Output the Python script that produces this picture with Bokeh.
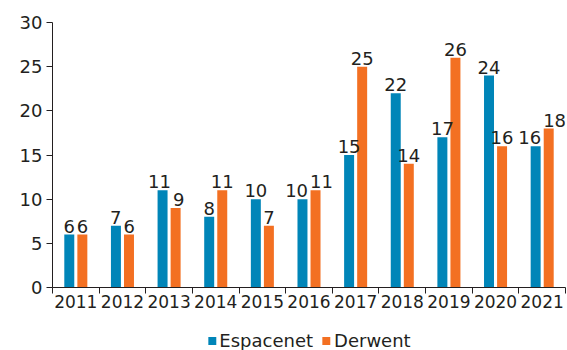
from bokeh.plotting import figure
from bokeh.models import ColumnDataSource, FixedTicker, Legend, LegendItem, Range1d
from bokeh.layouts import column
from bokeh.transform import dodge
from bokeh.embed import file_html
from bokeh.resources import INLINE
from bokeh.core.properties import value

years = ["2011", "2012", "2013", "2014", "2015", "2016", "2017", "2018", "2019", "2020", "2021"]
espacenet = [6, 7, 11, 8, 10, 10, 15, 22, 17, 24, 16]
derwent = [6, 6, 9, 11, 7, 11, 25, 14, 26, 16, 18]
y_ticks = [0, 5, 10, 15, 20, 25, 30]
series_names = ["Espacenet", "Derwent"]

BLUE = "#0085b8"
ORANGE = "#f37022"
TXT = "#231f20"
FONT = "DejaVu Sans"

n = len(years)
centers = [i + 0.5 for i in range(n)]

# simple label collision avoidance (pixel offsets)
px_x = 513.0 / n
px_y = 265.0 / 30
char_w = 11.4
sep = 0.28 * px_x
e_off, d_off = [], []
for e, d in zip(espacenet, derwent):
    need = (len(str(e)) + len(str(d))) * char_w / 2 + 2
    dy = abs(e - d) * px_y
    if dy < 20 and need > sep:
        s = (need - sep) / 2
    else:
        s = 0
    e_off.append(-s)
    d_off.append(s)

src = ColumnDataSource(dict(
    x=centers, esp=espacenet, der=derwent,
    esp_lbl=[str(v) for v in espacenet], der_lbl=[str(v) for v in derwent],
    e_off=e_off, d_off=d_off,
))

p = figure(frame_width=513, frame_height=265, output_backend="svg", toolbar_location=None,
           x_range=Range1d(0, n), y_range=Range1d(0, 30),
           min_border_left=52, min_border_right=2, min_border_top=22, min_border_bottom=31)
p.outline_line_color = None
p.xgrid.visible = False
p.ygrid.visible = False
p.background_fill_color = "white"

off = 0.14
w = 0.214
p.vbar(x=dodge("x", -off, range=p.x_range), top="esp", width=w, source=src,
       fill_color=BLUE, line_color=None)
p.vbar(x=dodge("x", off, range=p.x_range), top="der", width=w, source=src,
       fill_color=ORANGE, line_color=None)

p.text(x=dodge("x", -off, range=p.x_range), y="esp", text="esp_lbl", source=src,
       x_offset="e_off", y_offset=-2, text_align="center", text_baseline="bottom",
       text_font=value(FONT), text_font_size="18px", text_color=TXT)
p.text(x=dodge("x", off, range=p.x_range), y="der", text="der_lbl", source=src,
       x_offset="d_off", y_offset=-2, text_align="center", text_baseline="bottom",
       text_font=value(FONT), text_font_size="18px", text_color=TXT)

xa = p.xaxis[0]
xa.ticker = FixedTicker(ticks=centers, minor_ticks=list(range(n + 1)))
xa.major_label_overrides = {c: y for c, y in zip(centers, years)}
xa.major_tick_out = 0
xa.major_tick_in = 0
xa.minor_tick_out = 6
xa.minor_tick_in = 0
xa.minor_tick_line_color = TXT
xa.axis_line_color = TXT
xa.major_label_text_font = FONT
xa.major_label_text_font_size = "17px"
xa.major_label_text_color = TXT
xa.major_label_standoff = 1

ya = p.yaxis[0]
ya.ticker = FixedTicker(ticks=y_ticks)
ya.major_tick_out = 6
ya.major_tick_in = 0
ya.minor_tick_line_color = None
ya.major_tick_line_color = TXT
ya.axis_line_color = TXT
ya.major_label_text_font = FONT
ya.major_label_text_font_size = "18px"
ya.major_label_text_color = TXT
ya.major_label_standoff = 4

# legend strip below the chart (its bars fall outside its y range, only the legend shows)
lg = figure(width=567, height=33, output_backend="svg", toolbar_location=None,
            x_axis_type=None, y_axis_type=None,
            min_border_left=26, min_border_right=0, min_border_top=11, min_border_bottom=0,
            x_range=Range1d(0, n), y_range=Range1d(100, 101))
lg.outline_line_color = None
lg.xgrid.visible = False
lg.ygrid.visible = False
lb = lg.vbar(x="x", top="esp", width=w, source=src, fill_color=BLUE, line_color=None)
lo = lg.vbar(x="x", top="der", width=w, source=src, fill_color=ORANGE, line_color=None)
legend = Legend(items=[LegendItem(label=series_names[0], renderers=[lb]),
                       LegendItem(label=series_names[1], renderers=[lo])],
                orientation="horizontal", location="center",
                border_line_color=None, background_fill_alpha=0,
                label_text_font=FONT, label_text_font_size="18px", label_text_color=TXT,
                glyph_width=10, glyph_height=10, label_standoff=3, spacing=8,
                padding=0, margin=0, label_height=18)
lg.add_layout(legend)

layout = column(p, lg, spacing=0)
open("out.html", "w").write(file_html(layout, INLINE))
